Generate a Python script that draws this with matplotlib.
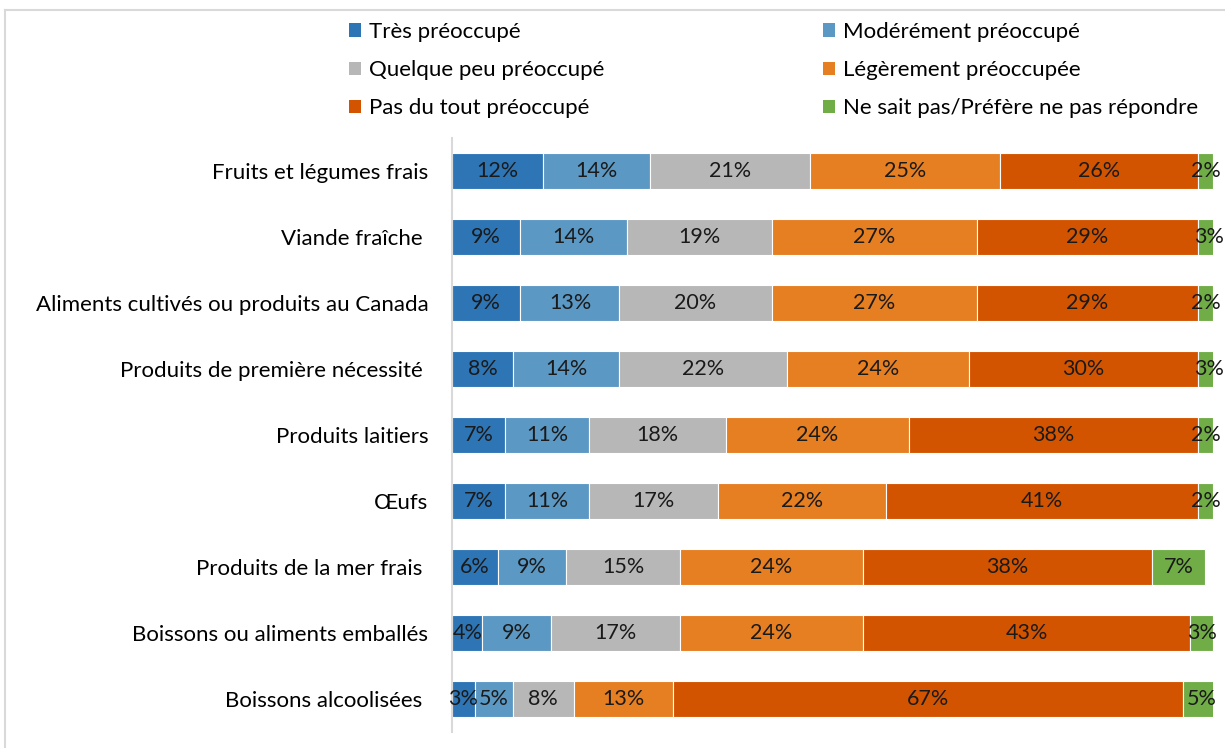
import matplotlib
import matplotlib.pyplot as plt
from matplotlib.patches import Patch
from matplotlib.lines import Line2D
import numpy as np

matplotlib.rcParams['font.family'] = ['Lato', 'DejaVu Sans']

categories = [
    "Fruits et légumes frais",
    "Viande fraîche ",
    "Aliments cultivés ou produits au Canada",
    "Produits de première nécessité ",
    "Produits laitiers",
    "Œufs",
    "Produits de la mer frais ",
    "Boissons ou aliments emballés",
    "Boissons alcoolisées ",
]

series_names = [
    "Très préoccupé",
    "Modérément préoccupé",
    "Quelque peu préoccupé",
    "Légèrement préoccupée",
    "Pas du tout préoccupé",
    "Ne sait pas/Préfère ne pas répondre",
]

tres = [12, 9, 9, 8, 7, 7, 6, 4, 3]
moderement = [14, 14, 13, 14, 11, 11, 9, 9, 5]
quelque = [21, 19, 20, 22, 18, 17, 15, 17, 8]
legerement = [25, 27, 27, 24, 24, 22, 24, 24, 13]
pas_du_tout = [26, 29, 29, 30, 38, 41, 38, 43, 67]
ne_sait_pas = [2, 3, 2, 3, 2, 2, 7, 3, 5]

colors = ['#2E75B6', '#5B98C4', '#B7B7B7', '#E67E22', '#D35400', '#70AD47']

series = [tres, moderement, quelque, legerement, pas_du_tout, ne_sait_pas]

fig = plt.figure(figsize=(12.25, 7.48), dpi=100)
ax = fig.add_axes([452 / 1225, 1 - 732 / 748, (1213 - 452) / 1225, (732 - 138) / 748])

y = np.arange(len(categories))
left = np.zeros(len(categories))
handles = []
for name, vals, col in zip(series_names, series, colors):
    vals = np.array(vals, dtype=float)
    bars = ax.barh(y, vals, left=left, height=0.55, color=col,
                   edgecolor='white', linewidth=0.8, label=name)
    for b, v in zip(bars, vals):
        ax.text(b.get_x() + b.get_width() / 2, b.get_y() + b.get_height() / 2,
                f'{int(v)}%', ha='center', va='center', fontsize=15.5, color='#1a1a1a')
    left += vals
    handles.append(Patch(facecolor=col, edgecolor='none', label=name))

ax.set_xlim(0, 100)
ax.set_ylim(len(categories) - 0.5, -0.5)
ax.set_yticks(y)
ax.set_yticklabels(categories, fontsize=16)
ax.tick_params(axis='y', length=0, pad=17)
ax.set_xticks([])
for s in ['top', 'right', 'bottom']:
    ax.spines[s].set_visible(False)
ax.spines['left'].set_color('#D9D9D9')
ax.spines['left'].set_linewidth(1.5)

order = [0, 2, 4, 1, 3, 5]
fig.legend([handles[i] for i in order], [series_names[i] for i in order],
           ncol=2, loc='upper left', bbox_to_anchor=(329 / 1225, 1 - 2 / 748),
           frameon=False, fontsize=16, handlelength=0.55, handleheight=0.55,
           handletextpad=0.35, labelspacing=0.82, columnspacing=9.85)

# chart frame (top and left edges visible)
fig.add_artist(Line2D([5 / 1225, 1], [1 - 10 / 748, 1 - 10 / 748],
                      transform=fig.transFigure, color='#D9D9D9', linewidth=1.5))
fig.add_artist(Line2D([5 / 1225, 5 / 1225], [0, 1 - 10 / 748],
                      transform=fig.transFigure, color='#D9D9D9', linewidth=1.5))

fig.savefig('out.png', dpi=100)
